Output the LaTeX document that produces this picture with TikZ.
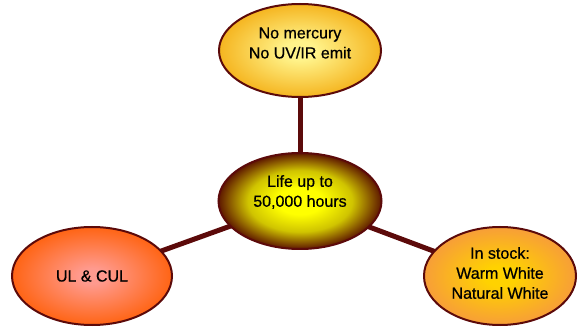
\documentclass[tikz,border=0pt]{standalone}
\usepackage{fontspec}
\setmainfont{Liberation Sans}
\newfontfamily\bubblefont{Liberation Sans}[FakeBold=0.6]
\usetikzlibrary{shapes.geometric,backgrounds}

\definecolor{rimred}{HTML}{5C0A0A}
\definecolor{topin}{HTML}{FFF38A}
\definecolor{topout}{HTML}{F5B520}
\definecolor{lifein}{HTML}{FFFF00}
\definecolor{lifemid}{HTML}{D0C400}
\definecolor{lifeout}{HTML}{5E1800}
\definecolor{ulin}{HTML}{FF9A8E}
\definecolor{ulout}{HTML}{FF6414}
\definecolor{stockin}{HTML}{FFD200}
\definecolor{stockout}{HTML}{F79E38}

% the ellipse rim sits at 25bp of the shading
\pgfdeclareradialshading{topglow}{\pgfpoint{0bp}{0bp}}{color(0bp)=(topin); color(5bp)=(topin); color(25bp)=(topout); color(50bp)=(topout)}
\pgfdeclareradialshading{lifeglow}{\pgfpoint{0bp}{0bp}}{color(0bp)=(lifein); color(7bp)=(lifein); color(16bp)=(lifemid); color(25bp)=(lifeout); color(50bp)=(lifeout)}
\pgfdeclareradialshading{ulglow}{\pgfpoint{0bp}{0bp}}{color(0bp)=(ulin); color(4bp)=(ulin); color(25bp)=(ulout); color(50bp)=(ulout)}
\pgfdeclareradialshading{stockglow}{\pgfpoint{0bp}{0bp}}{color(0bp)=(stockin); color(5bp)=(stockin); color(25bp)=(stockout); color(50bp)=(stockout)}

\tikzset{
  bubble/.style={ellipse, draw=rimred, line width=2pt, inner sep=0pt, shade},
  stem/.style={draw=rimred, line width=5pt},
  words/.style={font=\bubblefont\fontsize{16pt}{20pt}\selectfont, align=center}
}

\begin{document}
\begin{tikzpicture}[x=1pt,y=1pt]
                  \useasboundingbox (0,0) rectangle (579,327);
                  % top bubble
                  \node [bubble, shading=topglow, minimum width=162, minimum height=93] (mercury) at (300,276.5) {};
                  \node [words] (mercury text) at (300,284) {No mercury\\No UV/IR emit};
                  % middle bubble
                  \node [bubble, shading=lifeglow, minimum width=163, minimum height=96] (life) at (300,126) {};
                  \node [words] (life text) at (300,135) {Life up to\\50,000 hours};
                  % bottom left bubble
                  \node [bubble, shading=ulglow, minimum width=160, minimum height=98] (ul) at (92,51) {};
                  \node [words] (ul text) at (92,51) {UL \& CUL};
                  % bottom right bubble
                  \node [bubble, shading=stockglow, minimum width=152, minimum height=98] (stock) at (500,51) {};
                  \node [words] (stock text) at (500,54) {In stock:\\Warm White\\Natural White};
                  % stems
                  \begin{scope}[on background layer]
                  \draw [stem] (life.center) -- (mercury.center);
                  \draw [stem] (life.center) -- (ul.center);
                  \draw [stem] (life.center) -- (stock.center);
                  \end{scope}
\end{tikzpicture}
\end{document}
